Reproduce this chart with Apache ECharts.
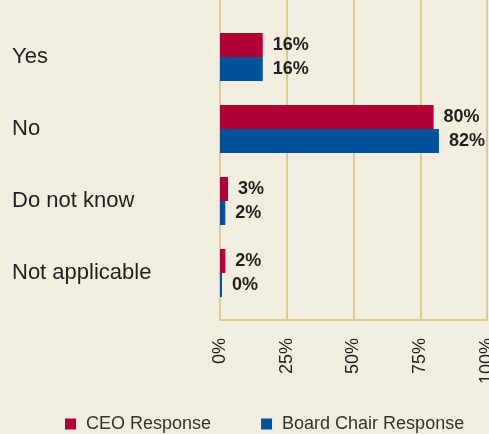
<!DOCTYPE html>
<html>
<head>
<meta charset="utf-8">
<script src="https://cdn.jsdelivr.net/npm/echarts@6/dist/echarts.min.js"></script>
<style>
  html, body { margin: 0; padding: 0; background: #f1eddf; }
  #chart { width: 489px; height: 434px; }
</style>
</head>
<body>
<div id="chart"></div>
<script>
const categories = ['Yes', 'No', 'Do not know', 'Not applicable']
const ceoValues = [16, 80, 3, 2]
const boardValues = [16, 82, 2, 0]
const seriesNames = ['CEO Response', 'Board Chair Response']
const tickValues = [0, 25, 50, 75, 100]

const gridColor = '#dccb92'
const textColor = '#231f20'

const chart = echarts.init(document.getElementById('chart'))

const option = {
  backgroundColor: '#f1eddf',
  animation: false,
  textStyle: { fontFamily: 'Liberation Sans, Arial, sans-serif' },
  legend: {
    data: seriesNames,
    left: 60,
    top: 410,
    itemWidth: 11,
    itemHeight: 11,
    itemGap: 50,
    icon: 'rect',
    textStyle: { fontSize: 18, color: '#333', padding: [0, 0, 0, 5] }
  },
  grid: [
    // frame with gridlines (full height)
    { left: 220, right: 2, top: 0, height: 320, outerBoundsMode: 'none' },
    // bars
    { left: 220, right: 2, top: 21, height: 288, outerBoundsMode: 'none' }
  ],
  xAxis: [
    {
      gridIndex: 0,
      type: 'value',
      min: tickValues[0],
      max: tickValues[tickValues.length - 1],
      interval: 25,
      axisLine: { show: true, lineStyle: { color: gridColor, width: 2 } },
      axisTick: { show: false },
      splitLine: { show: true, lineStyle: { color: gridColor, width: 2 } },
      axisLabel: {
        rotate: 90,
        margin: 18,
        fontSize: 18,
        color: textColor,
        formatter: '{value}%'
      }
    },
    {
      gridIndex: 1,
      type: 'value',
      min: 0,
      max: 100,
      show: false
    }
  ],
  yAxis: [
    { gridIndex: 0, type: 'value', show: false },
    {
      gridIndex: 1,
      type: 'category',
      inverse: true,
      data: categories,
      axisLine: { show: false },
      axisTick: { show: false },
      axisLabel: {
        align: 'left',
        margin: 208,
        fontSize: 22,
        color: textColor,
        padding: [3, 0, 0, 0]
      }
    }
  ],
  series: [
    {
      name: seriesNames[0],
      type: 'bar',
      xAxisIndex: 1,
      yAxisIndex: 1,
      data: ceoValues,
      barGap: '0%',
      barCategoryGap: '33.3%',
      itemStyle: { color: '#b10036' },
      label: {
        show: true,
        position: 'right',
        distance: 10,
        formatter: '{c}%',
        fontSize: 18,
        fontWeight: 'bold',
        color: textColor
      }
    },
    {
      name: seriesNames[1],
      type: 'bar',
      xAxisIndex: 1,
      yAxisIndex: 1,
      data: boardValues,
      barMinHeight: 2,
      itemStyle: { color: '#00529b' },
      label: {
        show: true,
        position: 'right',
        distance: 10,
        formatter: '{c}%',
        fontSize: 18,
        fontWeight: 'bold',
        color: textColor
      }
    }
  ]
}

chart.setOption(option)
</script>
</body>
</html>
